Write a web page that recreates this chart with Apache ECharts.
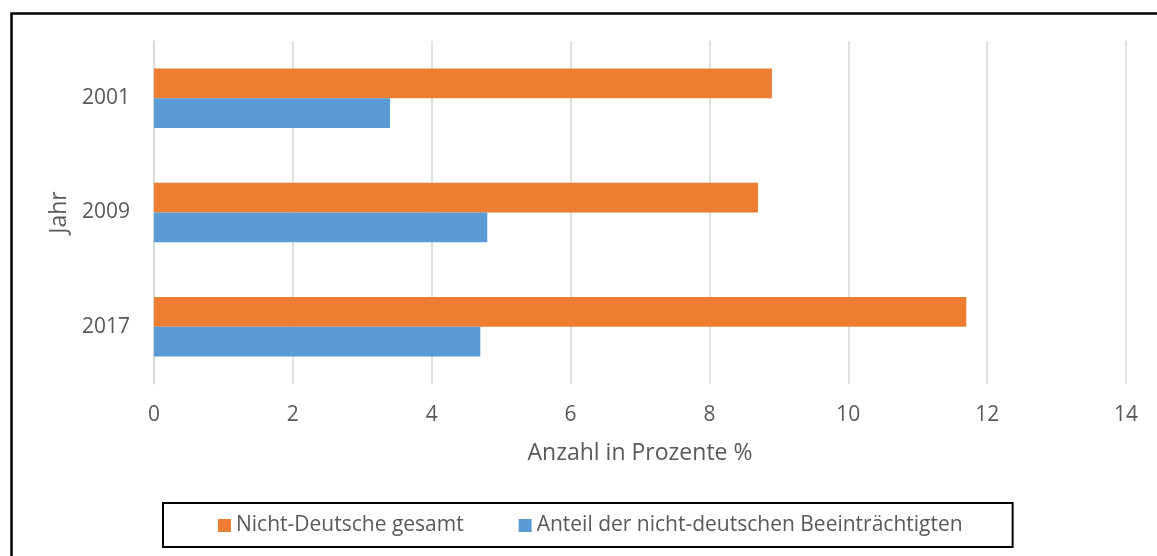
<!DOCTYPE html>
<html>
<head>
<meta charset="utf-8">
<script src="https://cdn.jsdelivr.net/npm/echarts@6/dist/echarts.min.js"></script>
<style>
  html, body { margin: 0; padding: 0; background: #fff; }
  #chart { width: 1157px; height: 556px; }
</style>
</head>
<body>
<div id="chart"></div>
<script>
// Jahre (Kategorien, von oben nach unten)
const years = ['2001', '2009', '2017'];
// Anteil aller Nicht-Deutschen in %
const nichtDeutscheGesamt = [8.9, 8.7, 11.7];
// Anteil der nicht-deutschen Beeinträchtigten in %
const anteilBeeintraechtigte = [3.4, 4.8, 4.7];
// Achsenteilung der Prozentachse
const xTicks = [0, 2, 4, 6, 8, 10, 12, 14];

const seriesNames = ['Nicht-Deutsche gesamt', 'Anteil der nicht-deutschen Beeinträchtigten'];
const FONT = '"Open Sans", "DejaVu Sans", sans-serif';
const TEXT = '#595959';

const chart = echarts.init(document.getElementById('chart'), null, { renderer: 'canvas' });

chart.setOption({
  animation: false,
  backgroundColor: '#ffffff',
  textStyle: { fontFamily: FONT, color: TEXT },
  // Rahmen um die gesamte Grafik
  graphic: [{
    type: 'rect',
    left: 9, top: 11,
    shape: { x: 0, y: 0, width: 1200, height: 600 },
    style: { fill: 'none', stroke: '#000000', lineWidth: 2.5 },
    silent: true, z: 100
  }],
  grid: { left: 154, right: 31, top: 41, bottom: 172, containLabel: false },
  legend: {
    data: seriesNames,
    left: 163, top: 503,
    orient: 'horizontal',
    itemWidth: 13, itemHeight: 13,
    itemGap: 55,
    padding: [12, 50, 11, 55],
    borderColor: '#000000', borderWidth: 2,
    icon: 'rect',
    textStyle: { fontFamily: FONT, fontSize: 21, color: TEXT }
  },
  xAxis: {
    type: 'value',
    min: xTicks[0], max: xTicks[xTicks.length - 1], interval: 2,
    name: 'Anzahl in Prozente %',
    nameLocation: 'middle', nameGap: 58,
    nameTextStyle: { fontFamily: FONT, fontSize: 23, color: TEXT },
    axisLine: { show: false }, axisTick: { show: false },
    axisLabel: { fontFamily: FONT, fontSize: 21, color: TEXT, margin: 21 },
    splitLine: { show: true, lineStyle: { color: '#d9d9d9', width: 1.5 } }
  },
  yAxis: {
    type: 'category',
    data: years,
    inverse: true,
    name: 'Jahr',
    nameLocation: 'middle', nameGap: 83,
    nameRotate: 90,
    nameTextStyle: { fontFamily: FONT, fontSize: 23, color: TEXT },
    axisLine: { show: true, lineStyle: { color: '#d9d9d9', width: 1.5 } },
    axisTick: { show: false },
    axisLabel: { fontFamily: FONT, fontSize: 21, color: TEXT, margin: 24 }
  },
  series: [
    {
      name: seriesNames[0], type: 'bar', data: nichtDeutscheGesamt,
      itemStyle: { color: '#ED7D31' },
      barGap: '0%', barCategoryGap: '48%'
    },
    {
      name: seriesNames[1], type: 'bar', data: anteilBeeintraechtigte,
      itemStyle: { color: '#5B9BD5' },
      barGap: '0%', barCategoryGap: '48%'
    }
  ]
});
</script>
</body>
</html>
